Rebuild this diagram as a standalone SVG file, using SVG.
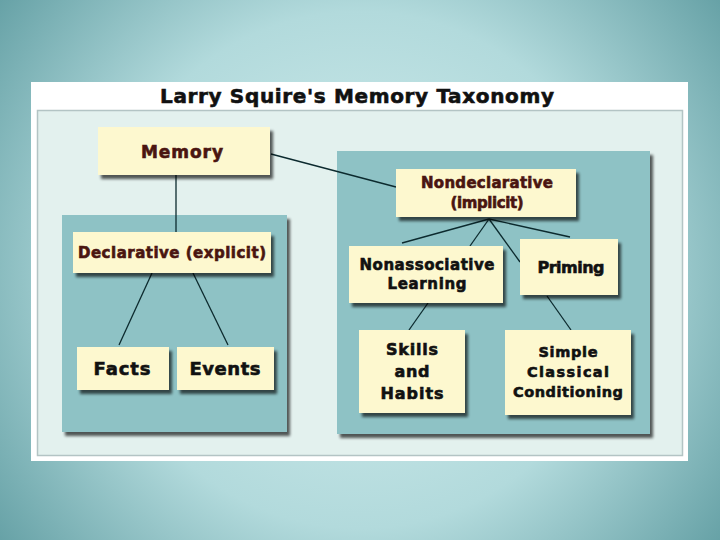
<svg xmlns="http://www.w3.org/2000/svg" width="720" height="540" viewBox="0 0 720 540">
<defs>
<radialGradient id="bg" cx="360" cy="270" r="470" gradientUnits="userSpaceOnUse">
<stop offset="0" stop-color="#d4eeee"/>
<stop offset="0.55" stop-color="#b2dadc"/>
<stop offset="1" stop-color="#5f9ca1"/>
</radialGradient>
<filter id="sh" x="-10%" y="-10%" width="130%" height="140%">
<feGaussianBlur in="SourceAlpha" stdDeviation="1.6"/>
<feOffset dx="3" dy="4" result="b"/>
<feComponentTransfer><feFuncA type="linear" slope="0.65"/></feComponentTransfer>
<feMerge><feMergeNode/><feMergeNode in="SourceGraphic"/></feMerge>
</filter>
<style>
.panel{fill:#8ec2c5;filter:url(#sh)}
.box{fill:#fdf8cf;filter:url(#sh)}
.t{font-family:"DejaVu Sans","Liberation Sans",sans-serif;font-weight:bold;text-anchor:middle;fill:#111;stroke:#111;stroke-width:0.6;lengthAdjust:spacing}
.r{fill:#4a1510;stroke:#4a1510}
.ln{stroke:#0c2a2e;stroke-width:1.3;fill:none}
</style>
</defs>
<rect width="720" height="540" fill="url(#bg)"/>
<rect x="31" y="82" width="657" height="379" fill="#ffffff"/>
<rect x="37.5" y="110.5" width="645" height="345" fill="#e3f1ee" stroke="#b3c4c4" stroke-width="1.5"/>
<text class="t" x="357" y="103" font-size="20" textLength="394" lengthAdjust="spacing">Larry Squire's Memory Taxonomy</text>

<rect class="panel" x="62" y="215" width="225" height="217"/>
<rect class="panel" x="337" y="151" width="313" height="283"/>

<g id="connectors">
<line class="ln" x1="176" y1="175" x2="176" y2="232"/>
<line class="ln" x1="271" y1="154" x2="396" y2="187"/>
<line class="ln" x1="152" y1="273" x2="119" y2="345"/>
<line class="ln" x1="193" y1="273" x2="228" y2="345"/>
<line class="ln" x1="489" y1="219" x2="402" y2="243"/>
<line class="ln" x1="489" y1="219" x2="470" y2="246"/>
<line class="ln" x1="489" y1="219" x2="520" y2="262"/>
<line class="ln" x1="489" y1="219" x2="570" y2="237"/>
<line class="ln" x1="428" y1="303" x2="409" y2="330"/>
<line class="ln" x1="547" y1="296" x2="571" y2="330"/>
</g>

<g id="memory">
<rect class="box" x="98" y="127" width="172" height="48"/>
<text class="t r" x="182" y="158" font-size="17" textLength="82" lengthAdjust="spacing">Memory</text>
</g>
<g id="declarative">
<rect class="box" x="73" y="232" width="198" height="41"/>
<text class="t r" x="172" y="258" font-size="15" textLength="188" lengthAdjust="spacing">Declarative (explicit)</text>
</g>
<g id="facts">
<rect class="box" x="77" y="347" width="92" height="43"/>
<text class="t" x="122" y="375" font-size="18" textLength="57" lengthAdjust="spacing">Facts</text>
</g>
<g id="events">
<rect class="box" x="177" y="347" width="97" height="43"/>
<text class="t" x="225" y="375" font-size="18" textLength="71" lengthAdjust="spacing">Events</text>
</g>
<g id="nondeclarative">
<rect class="box" x="396" y="169" width="180" height="48"/>
<text class="t r" x="487" y="188" font-size="15" textLength="132" lengthAdjust="spacing">Nondeclarative</text>
<text class="t r" x="487" y="208" font-size="15" textLength="73" lengthAdjust="spacing">(implicit)</text>
</g>
<g id="nonassociative">
<rect class="box" x="349" y="246" width="154" height="57"/>
<text class="t" x="427" y="270" font-size="15" textLength="135" lengthAdjust="spacing">Nonassociative</text>
<text class="t" x="427" y="289" font-size="15" textLength="79" lengthAdjust="spacing">Learning</text>
</g>
<g id="priming">
<rect class="box" x="520" y="239" width="98" height="56"/>
<text class="t" x="571" y="273" font-size="16" textLength="67" lengthAdjust="spacing">Priming</text>
</g>
<g id="skills">
<rect class="box" x="359" y="330" width="106" height="83"/>
<text class="t" x="412" y="355" font-size="16" textLength="52" lengthAdjust="spacing">Skills</text>
<text class="t" x="412" y="377" font-size="16" textLength="35" lengthAdjust="spacing">and</text>
<text class="t" x="412" y="399" font-size="16" textLength="63" lengthAdjust="spacing">Habits</text>
</g>
<g id="conditioning">
<rect class="box" x="505" y="330" width="126" height="85"/>
<text class="t" x="568" y="357" font-size="14.5" textLength="59" lengthAdjust="spacing">Simple</text>
<text class="t" x="568" y="377" font-size="14.5" textLength="82" lengthAdjust="spacing">Classical</text>
<text class="t" x="568" y="397" font-size="14.5" textLength="110" lengthAdjust="spacing">Conditioning</text>
</g>
</svg>
